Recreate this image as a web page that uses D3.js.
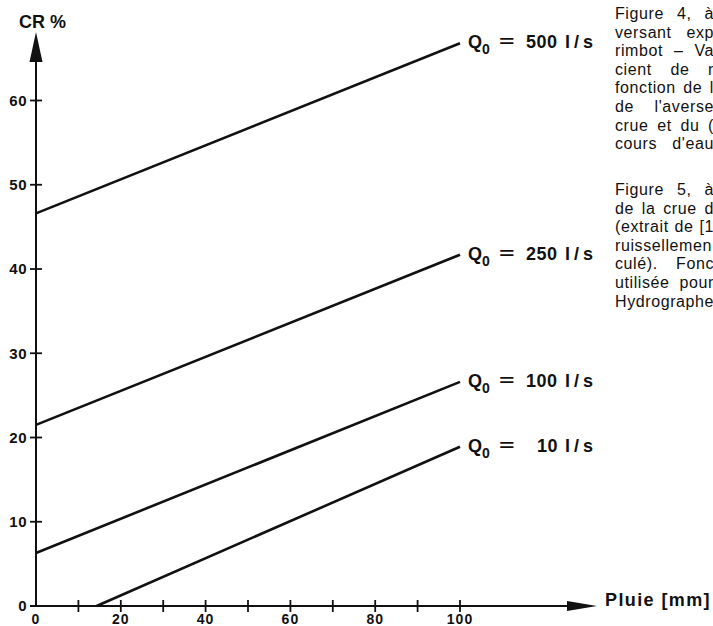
<!DOCTYPE html>
<html>
<head>
<meta charset="utf-8">
<script src="https://cdn.jsdelivr.net/npm/d3@7"></script>
<style>
  html, body { margin: 0; padding: 0; background: #fff; overflow: hidden; }
  svg { display: block; }
</style>
</head>
<body>
<script>
// data
const flows = ["500", "250", "100", "10"]
const pluieStart = [0, 0, 0, 14.3]
const crStart = [46.6, 21.5, 6.3, 0]
const pluieEnd = [100, 100, 100, 100]
const crEnd = [66.8, 41.7, 26.6, 18.9]
const xTicks = [0, 10, 20, 30, 40, 50, 60, 70, 80, 90, 100]
const xLabels = [0, 20, 40, 60, 80, 100]
const yTicks = [0, 10, 20, 30, 40, 50, 60]
const para1 = ["Figure 4, à", "versant exp", "rimbot – Va", "cient de r", "fonction de l", "de l'averse", "crue et du (", "cours d'eau"]
const para2 = ["Figure 5, à", "de la crue d", "(extrait de [1", "ruissellemen", "culé). Fonc", "utilisée pour", "Hydrographe"]

const w = 713
const h = 626
const helv = "'Liberation Sans', Arial, sans-serif"

const svg = d3.select("body").append("svg")
  .attr("width", w)
  .attr("height", h)

const x = d3.scaleLinear().domain([0, 100]).range([36, 460])
const y = d3.scaleLinear().domain([0, 60]).range([606, 100.5])

// axes
svg.append("line")
  .attr("x1", x(0)).attr("y1", y(0) + 1)
  .attr("x2", x(0)).attr("y2", 60)
  .attr("stroke", "#111").attr("stroke-width", 2)
svg.append("path")
  .attr("d", `M${x(0)},32 L${x(0) - 6.5},62 L${x(0) + 6.5},62 Z`)
  .attr("fill", "#111")
svg.append("line")
  .attr("x1", x(0) - 6).attr("y1", y(0))
  .attr("x2", 570).attr("y2", y(0))
  .attr("stroke", "#111").attr("stroke-width", 2)
svg.append("path")
  .attr("d", `M597,${y(0)} L567,${y(0) - 5} L567,${y(0) + 5} Z`)
  .attr("fill", "#111")

// ticks crossing the axes
svg.selectAll(".xt").data(xTicks.filter(d => d > 0)).enter().append("line")
  .attr("class", "xt")
  .attr("x1", d => x(d)).attr("x2", d => x(d))
  .attr("y1", y(0) - 6).attr("y2", y(0) + 6)
  .attr("stroke", "#111").attr("stroke-width", 1.8)
svg.selectAll(".yt").data(yTicks).enter().append("line")
  .attr("class", "yt")
  .attr("x1", d => x(0) - 6).attr("x2", d => d === 0 ? x(0) : x(0) + 6)
  .attr("y1", d => y(d)).attr("y2", d => y(d))
  .attr("stroke", "#111").attr("stroke-width", 1.8)

svg.selectAll(".xl").data(xLabels).enter().append("text")
  .attr("class", "xl")
  .attr("x", d => x(d))
  .attr("y", 624)
  .attr("text-anchor", "middle")
  .attr("font-family", helv).attr("font-weight", "bold").attr("font-size", 14)
  .attr("letter-spacing", 1)
  .attr("fill", "#111")
  .text(d => d)
svg.selectAll(".yl").data(yTicks).enter().append("text")
  .attr("class", "yl")
  .attr("x", 27)
  .attr("y", d => y(d))
  .attr("dy", "0.36em")
  .attr("text-anchor", "end")
  .attr("font-family", helv).attr("font-weight", "bold").attr("font-size", 15)
  .attr("letter-spacing", 0.5)
  .attr("fill", "#111")
  .text(d => d)

svg.append("text")
  .attr("x", 19).attr("y", 28)
  .attr("font-family", helv).attr("font-weight", "bold").attr("font-size", 18)
  .attr("fill", "#111")
  .text("CR %")
svg.append("text")
  .attr("x", 605).attr("y", 606)
  .attr("font-family", helv).attr("font-weight", "bold").attr("font-size", 18)
  .attr("letter-spacing", 1.4)
  .attr("fill", "#111")
  .text("Pluie [mm]")

// the four straight lines
const lineData = flows.map((f, i) => ({
  flow: f,
  pts: [[pluieStart[i], crStart[i]], [pluieEnd[i], crEnd[i]]]
}))
const line = d3.line().x(d => x(d[0])).y(d => y(d[1]))

svg.selectAll(".serie").data(lineData).enter().append("path")
  .attr("class", "serie")
  .attr("d", d => line(d.pts))
  .attr("fill", "none")
  .attr("stroke", "#111")
  .attr("stroke-width", 2.6)

// labels Q0 = ... l/s
const lab = svg.selectAll(".lab").data(lineData).enter().append("text")
  .attr("class", "lab")
  .attr("y", d => y(d.pts[1][1]) + 5)
  .attr("font-family", helv).attr("font-weight", "bold").attr("font-size", 18)
  .attr("fill", "#111")
lab.append("tspan").attr("x", d => x(100) + 8).text("Q")
lab.append("tspan").attr("dy", 6).attr("font-size", 14).text("0")
lab.append("tspan").attr("x", d => x(100) + 38).attr("dy", -6)
  .attr("font-family", "'DejaVu Sans', sans-serif")
  .attr("font-weight", "normal").attr("font-size", 21).text("=")
lab.append("tspan").attr("x", d => x(100) + (d.flow.length < 3 ? 77 : 66))
  .attr("letter-spacing", 0.5).text(d => d.flow)
lab.append("tspan").attr("x", d => x(100) + 105).attr("letter-spacing", 4).text("l/s")

// side text, justified and cut at the page edge
const drawPara = (lines, top, cls) => {
  svg.selectAll("." + cls).data(lines).enter().append("text")
    .attr("class", cls)
    .attr("x", 615)
    .attr("y", (d, i) => top + i * 18.6)
    .attr("font-family", helv).attr("font-size", 16)
    .attr("letter-spacing", 0.6)
    .attr("fill", "#111")
    .text(d => d)
    .each(function (d) {
      const gaps = d.split(" ").length - 1
      const len = this.getComputedTextLength()
      const extra = 99 - len
      if (gaps > 0 && extra > 0) d3.select(this).attr("word-spacing", extra / gaps)
    })
}
drawPara(para1, 19, "p1")
drawPara(para2, 195, "p2")
</script>
</body>
</html>
